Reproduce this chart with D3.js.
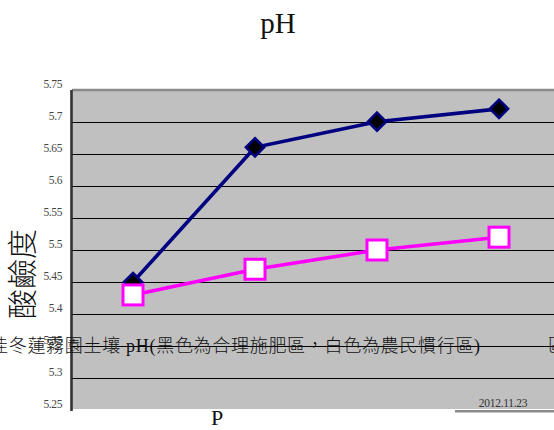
<!DOCTYPE html>
<html>
<head>
<meta charset="utf-8">
<script src="https://cdn.jsdelivr.net/npm/d3@7"></script>
<style>
  html, body { margin: 0; padding: 0; background: #fff; }
  svg { display: block; }
</style>
</head>
<body>
<svg id="chart" width="554" height="430"></svg>
<script>
// Sampling rounds (x-axis categories) and soil pH per treatment
const categories = ["1", "2", "3", "4"];
const rationalFert = [5.45, 5.66, 5.70, 5.72];   // black diamonds
const farmerPractice = [5.43, 5.47, 5.50, 5.52]; // white squares
const yTicks = [5.25, 5.3, 5.35, 5.4, 5.45, 5.5, 5.55, 5.6, 5.65, 5.7, 5.75];

const svg = d3.select("#chart");
const plot = { left: 72, top: 89, right: 560, bottom: 409 };

const x = d3.scaleBand().domain(categories).range([plot.left, plot.right]);
const y = d3.scaleLinear().domain([5.25, 5.75]).range([410.4, 89.6]);
const cx = d => x(d) + x.bandwidth() / 2;

// plot background
svg.append("rect")
  .attr("x", plot.left).attr("y", plot.top)
  .attr("width", plot.right - plot.left).attr("height", plot.bottom - plot.top)
  .attr("fill", "#c0c0c0");

// clip for gridlines inside the plot
svg.append("clipPath").attr("id", "plotClip")
  .append("rect")
  .attr("x", plot.left).attr("y", plot.top)
  .attr("width", plot.right - plot.left).attr("height", plot.bottom - plot.top);

// horizontal gridlines
svg.append("g").attr("clip-path", "url(#plotClip)")
  .selectAll("line").data(yTicks.filter(t => t < 5.75)).join("line")
  .attr("x1", plot.left).attr("x2", plot.right)
  .attr("y1", d => Math.round(y(d)) + 0.5).attr("y2", d => Math.round(y(d)) + 0.5)
  .attr("stroke", "#000").attr("stroke-width", 1.2);

// top border of plot
svg.append("line")
  .attr("x1", plot.left).attr("x2", plot.right)
  .attr("y1", plot.top + 1).attr("y2", plot.top + 1)
  .attr("stroke", "#8a8a8a").attr("stroke-width", 2.5);

// y axis with labels sitting slightly above each gridline
const yAxis = d3.axisLeft(y).tickValues(yTicks).tickSize(0).tickPadding(0)
  .tickFormat(d => String(+d.toFixed(2)));
const gy = svg.append("g").attr("transform", `translate(${plot.left - 1},0)`).call(yAxis);
gy.select(".domain").attr("stroke", "#333").attr("stroke-width", 2.6);
gy.selectAll("text")
  .attr("x", -9).attr("dy", "-0.22em")
  .attr("font-family", "'Liberation Serif', 'DejaVu Serif', serif")
  .attr("font-size", 11.5).attr("fill", "#444")
  .attr("letter-spacing", "-0.4px");

// series lines and markers
const line = d3.line().x((d, i) => cx(categories[i])).y(d => y(d));

svg.append("path").datum(rationalFert)
  .attr("d", line).attr("fill", "none")
  .attr("stroke", "#000080").attr("stroke-width", 3.6);

svg.append("g").selectAll("path").data(rationalFert).join("path")
  .attr("d", d3.symbol(d3.symbolDiamond2, 210))
  .attr("transform", (d, i) => `translate(${cx(categories[i])},${y(d)})`)
  .attr("fill", "#000").attr("stroke", "#000080").attr("stroke-width", 2.6);

svg.append("path").datum(farmerPractice)
  .attr("d", line).attr("fill", "none")
  .attr("stroke", "#ff00ff").attr("stroke-width", 3.6);

svg.append("g").selectAll("rect").data(farmerPractice).join("rect")
  .attr("x", (d, i) => cx(categories[i]) - 10)
  .attr("y", d => y(d) - 10)
  .attr("width", 20).attr("height", 20)
  .attr("fill", "#fff").attr("stroke", "#ff00ff").attr("stroke-width", 3);

// chart title
svg.append("text")
  .attr("x", 278).attr("y", 33).attr("text-anchor", "middle")
  .attr("font-family", "'Liberation Serif', serif").attr("font-size", 29)
  .attr("fill", "#111").text("pH");

// y axis title
svg.append("text")
  .attr("transform", "translate(33,274) rotate(-90)")
  .attr("text-anchor", "middle")
  .attr("font-family", "'Noto Sans CJK TC', sans-serif").attr("font-weight", 300)
  .attr("font-size", 30).attr("fill", "#111").text("酸鹼度");

// x axis title
svg.append("text")
  .attr("x", 217).attr("y", 425).attr("text-anchor", "middle")
  .attr("font-family", "'Liberation Serif', serif").attr("font-size", 22)
  .attr("fill", "#111").text("P");

// date stamp and its underline bar
svg.append("rect")
  .attr("x", 455).attr("y", 410).attr("width", 110).attr("height", 2.5)
  .attr("fill", "#8a8a8a");
svg.append("text")
  .attr("x", 503).attr("y", 407).attr("text-anchor", "middle")
  .attr("font-family", "'Liberation Serif', serif").attr("font-size", 11.5)
  .attr("letter-spacing", "-0.3px")
  .attr("fill", "#333").text("2012.11.23");

// caption running across the chart
svg.append("text")
  .attr("x", -10).attr("y", 352)
  .attr("font-family", "'Liberation Serif', 'Noto Sans CJK TC', serif")
  .attr("font-weight", 300)
  .attr("font-size", 18).attr("letter-spacing", "0.7px").attr("fill", "#111")
  .text("佳冬蓮霧園土壤 pH(黑色為合理施肥區，白色為農民慣行區)");
svg.append("text")
  .attr("x", 548).attr("y", 352)
  .attr("font-family", "'Noto Sans CJK TC', serif").attr("font-weight", 300)
  .attr("font-size", 18).attr("fill", "#111")
  .text("區");
</script>
</body>
</html>
